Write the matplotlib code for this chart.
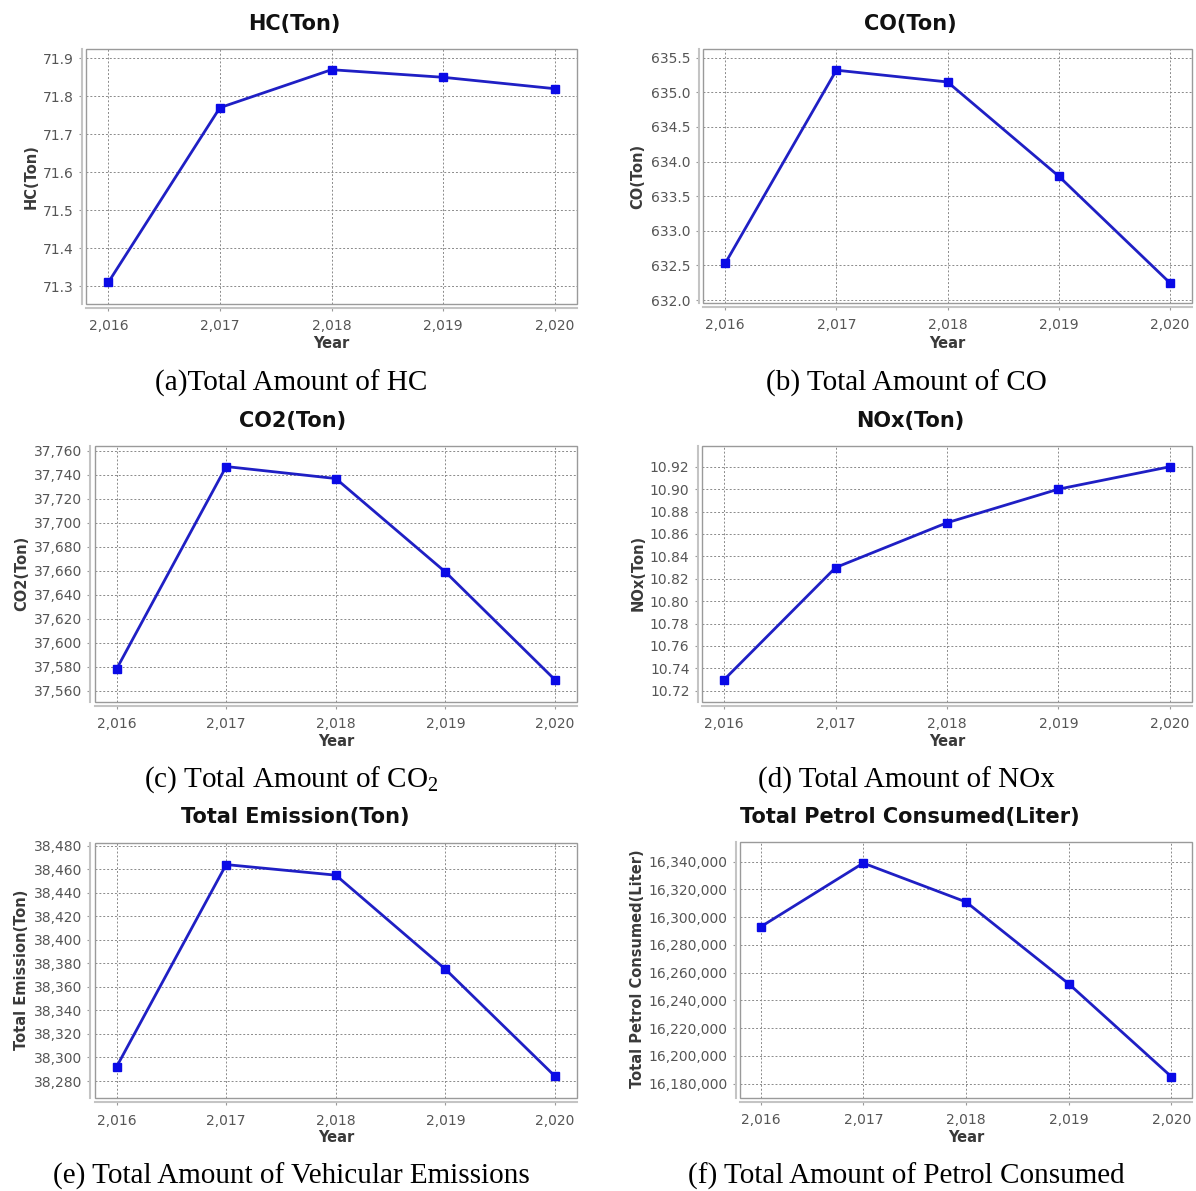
import matplotlib
matplotlib.use("Agg")
import matplotlib.pyplot as plt
from matplotlib.ticker import MultipleLocator, FuncFormatter
from matplotlib.patches import Rectangle

plt.rcParams['font.family'] = ['DejaVu Sans']
plt.rcParams['mathtext.fontset'] = 'custom'
plt.rcParams['mathtext.rm'] = 'Liberation Serif'
plt.rcParams['mathtext.it'] = 'Liberation Serif:italic'

# ---------------- data ----------------
years = [2016, 2017, 2018, 2019, 2020]
hc = [71.31, 71.77, 71.87, 71.85, 71.82]
co = [632.53, 635.32, 635.15, 633.79, 632.25]
co2 = [37578, 37747, 37737, 37659, 37569]
nox = [10.73, 10.83, 10.87, 10.90, 10.92]
total_emission = [38292, 38464, 38455, 38375, 38284]
petrol = [16293000, 16339000, 16311000, 16252000, 16185000]

titles = ["HC(Ton)", "CO(Ton)", "CO2(Ton)", "NOx(Ton)",
          "Total Emission(Ton)", "Total Petrol Consumed(Liter)"]
ylabels = ["HC(Ton)", "CO(Ton)", "CO2(Ton)", "NOx(Ton)",
           "Total Emission(Ton)", "Total Petrol Consumed(Liter)"]
captions = ["(a)Total Amount of HC", "(b) Total Amount of CO",
            r"(c) Total Amount of CO$_\mathrm{2}$", "(d) Total Amount of NOx",
            "(e) Total Amount of Vehicular Emissions",
            "(f) Total Amount of Petrol Consumed"]
xlabel = "Year"

series = [hc, co, co2, nox, total_emission, petrol]
ylims = [(71.253, 71.9245), (631.957, 635.626), (37550.8, 37764.4),
         (10.7102, 10.9388), (38265.3, 38482.6), (16169910, 16354414)]
ysteps = [0.1, 0.5, 20, 0.02, 20, 20000]
yfmts = ["{:.1f}", "{:.1f}", "{:,.0f}", "{:.2f}", "{:,.0f}", "{:,.0f}"]

# ---------------- layout (pixels) ----------------
W, H = 1196, 1191
boxes = [(86, 49, 577, 304), (703, 49, 1192, 303),
         (94.6, 445.7, 577, 701.7), (702, 445.7, 1192, 701.7),
         (94.6, 842.7, 577, 1098.3), (740, 841.7, 1192, 1097.7)]
title_pos = [(294, 24), (910, 24), (293, 421), (910, 421), (295, 817), (910, 817)]
ylab_pos = [(31, 177), (638, 176), (22, 573), (638, 573), (22, 970), (638, 969)]
xlab_pos = [(331, 343.5), (947, 343), (336, 741), (947, 741.5), (336, 1138), (966, 1138)]
cap_pos = [(291, 383), (906, 383), (291, 780), (906, 780), (291, 1176), (906, 1176)]

fig = plt.figure(figsize=(W / 100, H / 100), dpi=100)
fig.patch.set_facecolor("white")

tick_color = "#555555"
label_color = "#3a3a3a"

for i in range(6):
    l, t, r, b = boxes[i]
    ax = fig.add_axes([l / W, 1 - b / H, (r - l) / W, (b - t) / H])
    ax.plot(years, series[i], color="#1f1fc4", lw=2.0, marker="s",
            markersize=6, markerfacecolor="#0a0ae6", markeredgecolor="#0a0ae6",
            zorder=3, clip_on=False)
    ax.set_xlim(2015.8, 2020.2)
    ax.set_ylim(*ylims[i])
    ax.xaxis.set_major_locator(MultipleLocator(1))
    ax.yaxis.set_major_locator(MultipleLocator(ysteps[i]))
    ax.xaxis.set_major_formatter(FuncFormatter(lambda v, p: "{:,.0f}".format(v)))
    fmt = yfmts[i]
    ax.yaxis.set_major_formatter(FuncFormatter(lambda v, p, fmt=fmt: fmt.format(v)))
    ax.grid(True, color="#8a8a8a", linestyle=(0, (2, 2)), linewidth=0.7)
    ax.set_axisbelow(True)

    # JFreeChart-style: frame around plot + offset axis lines
    ax.spines["top"].set_visible(False)
    ax.spines["right"].set_visible(False)
    for side in ("left", "bottom"):
        ax.spines[side].set_position(("outward", 3))
        ax.spines[side].set_color("#c4c4c4")
        ax.spines[side].set_linewidth(1.5)
    ax.add_patch(Rectangle((0, 0), 1, 1, transform=ax.transAxes, fill=False,
                           edgecolor="#9a9a9a", linewidth=1.0, clip_on=False,
                           zorder=2.5))
    ax.tick_params(axis="both", direction="out", length=2, width=0.8,
                   color="#9a9a9a", labelsize=10, labelcolor=tick_color)
    ax.tick_params(axis="y", pad=4)
    ax.tick_params(axis="x", pad=6)

    # axis labels
    xl, yl = xlab_pos[i]
    ax.set_xlabel(xlabel, fontsize=10.5, fontweight="bold", color=label_color,
                  va="center")
    ax.xaxis.set_label_coords((xl - l) / (r - l), (b - yl) / (b - t))
    yx, yy = ylab_pos[i]
    ax.set_ylabel(ylabels[i], fontsize=10.5, fontweight="bold", color=label_color,
                  va="center", ha="center")
    ax.yaxis.set_label_coords((yx - l) / (r - l), (b - yy) / (b - t))

    # chart title
    tx, ty = title_pos[i]
    fig.text(tx / W, 1 - ty / H, titles[i], fontsize=15, fontweight="bold",
             color="#111111", ha="center", va="center")
    # caption
    cx, cy = cap_pos[i]
    fig.text(cx / W, 1 - cy / H, captions[i], fontsize=21,
             family="Liberation Serif", color="black", ha="center", va="center")

fig.savefig("out.png", dpi=100, facecolor="white")
